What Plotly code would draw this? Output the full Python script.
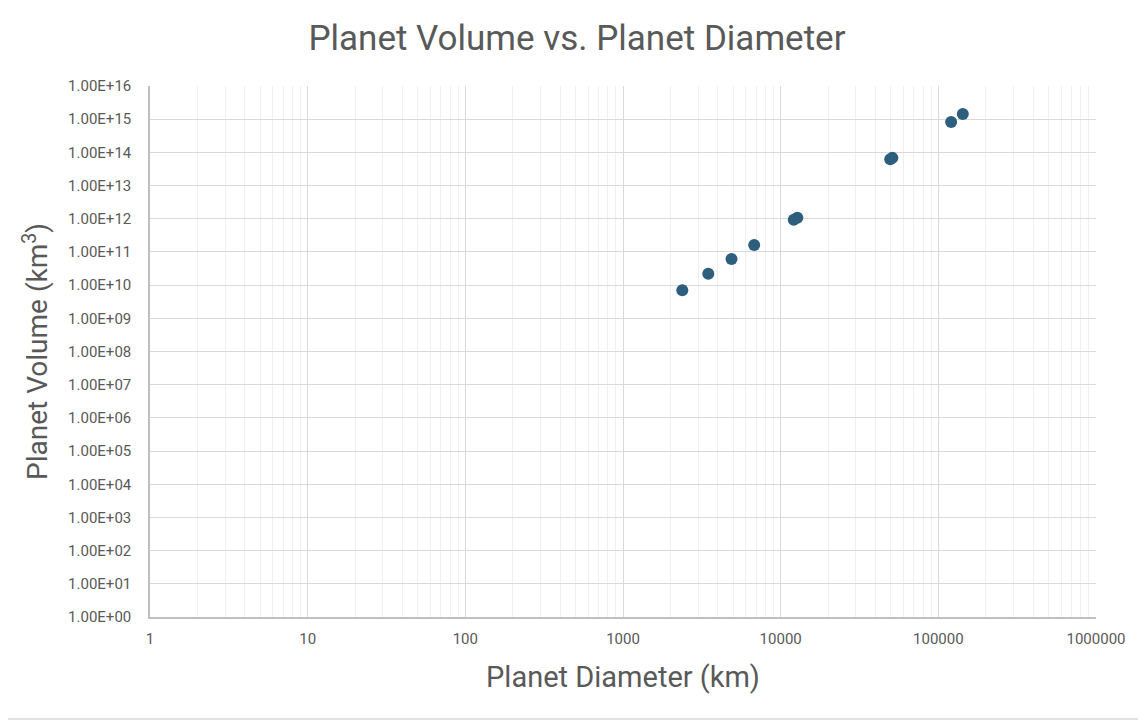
import plotly.graph_objects as go

# planet diameters (km) and volumes (km^3)
bodies = ["Pluto", "Moon", "Mercury", "Mars", "Venus", "Earth", "Neptune", "Uranus", "Saturn", "Jupiter"]
diameter_km = [2377, 3475, 4879, 6792, 12104, 12756, 49528, 51118, 120536, 142984]
volume_km3 = [7.06e9, 2.20e10, 6.08e10, 1.63e11, 9.28e11, 1.08e12, 6.25e13, 6.83e13, 8.27e14, 1.43e15]

x_ticks = [1, 10, 100, 1000, 10000, 100000, 1000000]
x_ticktext = ["1", "10", "100", "1000", "10000", "100000", "1000000"]
y_ticks = [10 ** p for p in range(0, 17)]
y_ticktext = ["1.00E+%02d" % p for p in range(0, 17)]

grey = "#595959"
font = "Roboto"

fig = go.Figure()
fig.add_trace(go.Scatter(
    x=diameter_km, y=volume_km3, mode="markers", text=bodies,
    marker=dict(size=12, color="#2E5E7E"),
    showlegend=False,
))

# the page body adds 8px around the figure, so the size is a bit smaller
fig.update_layout(
    width=1138, height=716,
    margin=dict(l=142, r=50, t=78, b=107),
    paper_bgcolor="white", plot_bgcolor="white",
    font=dict(family=font, color=grey),
    title=dict(text="Planet Volume vs. Planet Diameter", x=0.5, xanchor="center",
               y=0.958, yanchor="middle", font=dict(size=35, color=grey, family=font)),
)

fig.update_xaxes(
    type="log", range=[0, 6],
    tickvals=x_ticks, ticktext=x_ticktext, tickfont=dict(size=15, color=grey),
    showgrid=True, gridcolor="#d9d9d9", gridwidth=1.3,
    minor=dict(showgrid=True, gridcolor="#efefef", gridwidth=1, dtick="D1"),
    showline=True, linecolor="#bfbfbf", linewidth=1.5, mirror=False,
    ticks="outside", ticklen=7, tickcolor="rgba(0,0,0,0)",
    title=dict(text="Planet Diameter (km)", font=dict(size=29, color=grey), standoff=20),
    zeroline=False,
)
fig.update_yaxes(
    type="log", range=[0, 16],
    tickvals=y_ticks, ticktext=y_ticktext, tickfont=dict(size=15, color=grey),
    showgrid=True, gridcolor="#d9d9d9", gridwidth=1.3,
    showline=True, linecolor="#bfbfbf", linewidth=1.5,
    ticks="outside", ticklen=14, tickcolor="rgba(0,0,0,0)",
    title=dict(text="Planet Volume (km<sup>3</sup>)", font=dict(size=28, color=grey), standoff=12),
    zeroline=False,
)

# spreadsheet cell border under the chart
fig.add_shape(type="line", xref="paper", yref="paper", x0=-0.17, x1=1.06, y0=-0.192, y1=-0.192,
              line=dict(color="#d9d9d9", width=1.5))

fig.write_html("out.html")
